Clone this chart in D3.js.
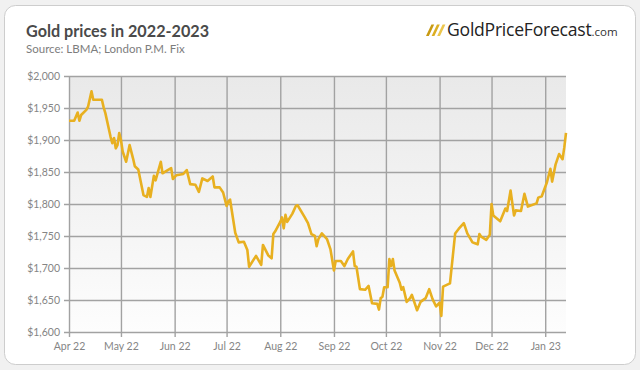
<!DOCTYPE html>
<html>
<head>
<meta charset="utf-8">
<script src="https://cdn.jsdelivr.net/npm/d3@7"></script>
<style>
  html, body { margin: 0; padding: 0; background: #f1f1f1; }
  svg { display: block; }
</style>
</head>
<body>
<svg id="chart" width="640" height="370"></svg>
<script>
// gold price, LBMA PM fix
const dates = [
  "2022-04-01","2022-04-04","2022-04-06","2022-04-07","2022-04-08","2022-04-11","2022-04-12","2022-04-14",
  "2022-04-15","2022-04-18","2022-04-19","2022-04-20","2022-04-21","2022-04-22","2022-04-25","2022-04-26",
  "2022-04-27","2022-04-28","2022-04-29","2022-04-30","2022-05-01","2022-05-02","2022-05-04","2022-05-06",
  "2022-05-08","2022-05-09","2022-05-11","2022-05-14","2022-05-16","2022-05-17","2022-05-18","2022-05-20",
  "2022-05-21","2022-05-24","2022-05-25","2022-05-28","2022-05-30","2022-05-31","2022-06-02","2022-06-06",
  "2022-06-08","2022-06-10","2022-06-13","2022-06-15","2022-06-17","2022-06-20","2022-06-23","2022-06-24",
  "2022-06-27","2022-06-29","2022-07-01","2022-07-02","2022-07-03","2022-07-06","2022-07-08","2022-07-11",
  "2022-07-13","2022-07-14","2022-07-18","2022-07-21","2022-07-22","2022-07-25","2022-07-27","2022-07-28",
  "2022-07-29","2022-08-01","2022-08-02","2022-08-03","2022-08-04","2022-08-05","2022-08-08","2022-08-10",
  "2022-08-11","2022-08-15","2022-08-17","2022-08-19","2022-08-21","2022-08-22","2022-08-23","2022-08-25",
  "2022-08-28","2022-08-30","2022-09-01","2022-09-02","2022-09-05","2022-09-07","2022-09-09","2022-09-12",
  "2022-09-13","2022-09-14","2022-09-16","2022-09-19","2022-09-21","2022-09-23","2022-09-26","2022-09-27",
  "2022-09-28","2022-09-29","2022-09-30","2022-10-02","2022-10-03","2022-10-04","2022-10-05","2022-10-06",
  "2022-10-09","2022-10-10","2022-10-11","2022-10-13","2022-10-15","2022-10-16","2022-10-19","2022-10-21",
  "2022-10-24","2022-10-26","2022-10-28","2022-10-30","2022-11-01","2022-11-02","2022-11-03","2022-11-07",
  "2022-11-10","2022-11-12","2022-11-15","2022-11-17","2022-11-20","2022-11-21","2022-11-23","2022-11-24",
  "2022-11-25","2022-11-28","2022-11-30","2022-12-01","2022-12-02","2022-12-06","2022-12-09","2022-12-10",
  "2022-12-12","2022-12-14","2022-12-15","2022-12-18","2022-12-20","2022-12-22","2022-12-27","2022-12-28",
  "2022-12-30","2023-01-02","2023-01-04","2023-01-05","2023-01-07","2023-01-09","2023-01-11","2023-01-12",
  "2023-01-13"
];
const prices = [
  1930, 1930, 1943, 1930, 1939, 1947, 1952, 1976,
  1963, 1963, 1963, 1963, 1951, 1942, 1905, 1895,
  1903, 1887, 1892, 1911, 1900, 1882, 1866, 1892,
  1871, 1859, 1854, 1814, 1811, 1825, 1811, 1844,
  1837, 1866, 1848, 1853, 1856, 1839, 1845, 1847,
  1853, 1831, 1830, 1819, 1840, 1836, 1843, 1826,
  1826, 1818, 1797, 1804, 1807, 1755, 1740, 1741,
  1728, 1702, 1719, 1705, 1736, 1720, 1715, 1753,
  1757, 1772, 1779, 1762, 1783, 1772, 1785, 1797,
  1798, 1780, 1770, 1753, 1750, 1734, 1745, 1754,
  1745, 1729, 1696, 1711, 1711, 1703, 1714, 1726,
  1703, 1702, 1667, 1666, 1672, 1645, 1644, 1635,
  1653, 1655, 1670, 1670, 1714, 1703, 1714, 1696,
  1677, 1666, 1670, 1647, 1653, 1658, 1634, 1647,
  1653, 1667, 1651, 1640, 1646, 1625, 1671, 1676,
  1754, 1761, 1770, 1754, 1740, 1739, 1737, 1753,
  1749, 1744, 1752, 1800, 1782, 1773, 1793, 1789,
  1821, 1782, 1790, 1789, 1816, 1796, 1801, 1810,
  1812, 1834, 1855, 1835, 1862, 1878, 1870, 1888,
  1911
];
const yTicks = [1600, 1650, 1700, 1750, 1800, 1850, 1900, 1950, 2000];
const xTicks = ["2022-04-01","2022-05-01","2022-06-01","2022-07-01","2022-08-01",
                "2022-09-01","2022-10-01","2022-11-01","2022-12-01","2023-01-01"];

const title = "Gold prices in 2022-2023";
const subtitle = "Source: LBMA; London P.M. Fix";

const parse = d3.timeParse("%Y-%m-%d");
const data = dates.map((d, i) => ({ date: parse(d), value: prices[i] }));

const svg = d3.select("#chart");
const margin = { top: 76, left: 69, right: 74, bottom: 38 };
const width = 640 - margin.left - margin.right;
const height = 370 - margin.top - margin.bottom;

// card
svg.append("rect")
  .attr("x", 4.5).attr("y", 5.5)
  .attr("width", 631).attr("height", 359)
  .attr("rx", 11)
  .attr("fill", "#fff")
  .attr("stroke", "#cdcdcd");

// title + source
svg.append("text")
  .attr("x", 26).attr("y", 37)
  .attr("font-family", "Lato, sans-serif")
  .attr("font-weight", "bold")
  .attr("font-size", 16.2)
  .attr("fill", "#4a4a4a")
  .text(title);
svg.append("text")
  .attr("x", 26).attr("y", 52.5)
  .attr("font-family", "Lato, sans-serif")
  .attr("font-size", 11.5)
  .attr("fill", "#7d7d7d")
  .text(subtitle);

// logo
const logo = svg.append("g").attr("transform", "translate(426,36)");
["#c89a12", "#dcae22", "#ecc64c"].forEach((c, i) => {
  const x0 = i * 5.6;
  logo.append("path")
    .attr("d", `M${x0},0 L${x0 + 2.8},0 L${x0 + 8.2},-11.5 L${x0 + 5.4},-11.5 Z`)
    .attr("fill", c);
});
const logoText = logo.append("text")
  .attr("x", 21).attr("y", 0)
  .attr("font-family", "'Open Sans', sans-serif")
  .attr("font-size", 17.6)
  .attr("letter-spacing", -0.25)
  .attr("fill", "#232323");
logoText.append("tspan").text("GoldPriceForecast");
logoText.append("tspan")
  .attr("font-size", 11.5)
  .attr("letter-spacing", 0)
  .attr("fill", "#333")
  .text(".com");

// plot background gradient
const grad = svg.append("defs").append("linearGradient")
  .attr("id", "bg").attr("x1", 0).attr("y1", 0).attr("x2", 0).attr("y2", 1);
grad.append("stop").attr("offset", "0%").attr("stop-color", "#e9e9e9");
grad.append("stop").attr("offset", "100%").attr("stop-color", "#fdfdfd");

const g = svg.append("g").attr("transform", `translate(${margin.left},${margin.top})`);
g.append("rect")
  .attr("width", width).attr("height", height)
  .attr("fill", "url(#bg)");

const x = d3.scaleTime()
  .domain(d3.extent(data, (d) => d.date))
  .range([0, width]);
const y = d3.scaleLinear()
  .domain([1600, 2000])
  .range([height, 0]);

const fmtDollar = (v) => "$" + d3.format(",")(v);

// gridlines + ticks via axes
const yAxis = d3.axisLeft(y)
  .tickValues(yTicks)
  .tickSize(-(width + 5))
  .tickPadding(4)
  .tickFormat(fmtDollar);
const xAxis = d3.axisBottom(x)
  .tickValues(xTicks.map(parse))
  .tickSize(-(height + 5))
  .tickPadding(6)
  .tickFormat(d3.timeFormat("%b %y"));

const yG = g.append("g").attr("transform", "translate(-5,0)").call(yAxis);
const xG = g.append("g").attr("transform", `translate(0,${height + 5})`).call(xAxis);

[yG, xG].forEach((ax) => {
  ax.select(".domain").remove();
  ax.selectAll(".tick line").attr("stroke", "#a2a2a2").attr("stroke-width", 1.4);
  ax.selectAll(".tick text")
    .attr("fill", "#858585")
    .attr("font-family", "Lato, sans-serif")
    .attr("font-size", 10.5);
});

// price line
const line = d3.line()
  .x((d) => x(d.date))
  .y((d) => y(d.value));

g.append("path")
  .datum(data)
  .attr("fill", "none")
  .attr("stroke", "#e8b020")
  .attr("stroke-width", 2.6)
  .attr("stroke-linejoin", "round")
  .attr("d", line);
</script>
</body>
</html>
